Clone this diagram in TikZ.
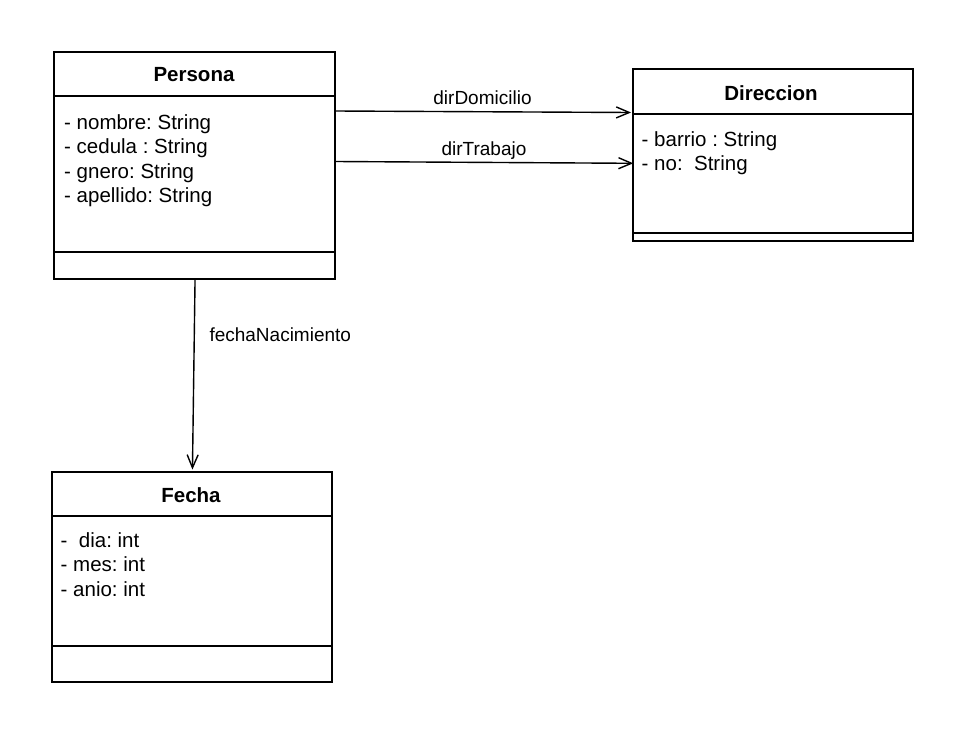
\documentclass[tikz,border=0pt]{standalone}
\usepackage{fontspec}
\setmainfont{Liberation Sans}
\usetikzlibrary{arrows.meta}
\frenchspacing
\begin{document}
\begin{tikzpicture}[x=1pt,y=-1pt,
  classbox/.style={draw, line width=1.5pt, inner sep=0pt, anchor=north west},
  sepline/.style={line width=1.5pt},
  titletext/.style={anchor=base, inner sep=0pt, font=\fontsize{20.5}{24}\selectfont\bfseries},
  attr/.style={anchor=base west, inner sep=0pt, font=\fontsize{20.5}{24}\selectfont},
  lbl/.style={anchor=base, inner sep=0pt, font=\fontsize{19}{23}\selectfont},
  assoc/.style={line width=1.4pt, -{Straight Barb[length=13pt,width=11pt,line width=1.4pt]}}
]
\fill[white] (0,0) rectangle (962,731);
\useasboundingbox (0,0) rectangle (962,731);

% Persona
\node[classbox, minimum width=281pt, minimum height=227pt] (persona) at (53,51) {};
\draw[sepline] ([yshift=-45pt]persona.north west) -- ([yshift=-45pt]persona.north east);
\draw[sepline] ([yshift=-201pt]persona.north west) -- ([yshift=-201pt]persona.north east);
\node[titletext] (ptitle) at (194,81.7) {Persona};
\node[attr] (pa1) at (64,129) {- nombre: String};
\node[attr] (pa2) at (64,153.5) {- cedula : String};
\node[attr] (pa3) at (64,178) {- gnero: String};
\node[attr] (pa4) at (64,202) {- apellido: String};

% Direccion
\node[classbox, minimum width=280pt, minimum height=172pt] (direccion) at (632,68) {};
\draw[sepline] ([yshift=-46pt]direccion.north west) -- ([yshift=-46pt]direccion.north east);
\draw[sepline] ([yshift=-165pt]direccion.north west) -- ([yshift=-165pt]direccion.north east);
\node[titletext] (dtitle) at (771,100.7) {Direccion};
\node[attr] (da1) at (641.5,146) {- barrio : String};
\node[attr] (da2) at (641.5,170.5) {- no:~ String};

% Fecha
\node[classbox, minimum width=280pt, minimum height=210pt] (fecha) at (51,471) {};
\draw[sepline] ([yshift=-45pt]fecha.north west) -- ([yshift=-45pt]fecha.north east);
\draw[sepline] ([yshift=-175pt]fecha.north west) -- ([yshift=-175pt]fecha.north east);
\node[titletext] (ftitle) at (191,502.3) {Fecha};
\node[attr] (fa1) at (60.5,547.3) {-~ dia: int};
\node[attr] (fa2) at (60.5,571.7) {- mes: int};
\node[attr] (fa3) at (60.5,596) {- anio: int};

% Associations
\draw[assoc] ([yshift=-60pt]persona.north east) -- ([xshift=-1pt,yshift=-44.5pt]direccion.north west);
\node[lbl] (l1) at (482.5,104) {dirDomicilio};
\draw[assoc] ([yshift=-110.5pt]persona.north east) -- ([xshift=1.3pt,yshift=-95.3pt]direccion.north west);
\node[lbl] (l2) at (484,155) {dirTrabajo};
\draw[assoc] ([xshift=0.8pt]persona.south) -- ([xshift=0.7pt,yshift=1.5pt]fecha.north);
\node[lbl, anchor=base west] (l3) at (209.3,341) {fechaNacimiento};
\end{tikzpicture}
\end{document}
